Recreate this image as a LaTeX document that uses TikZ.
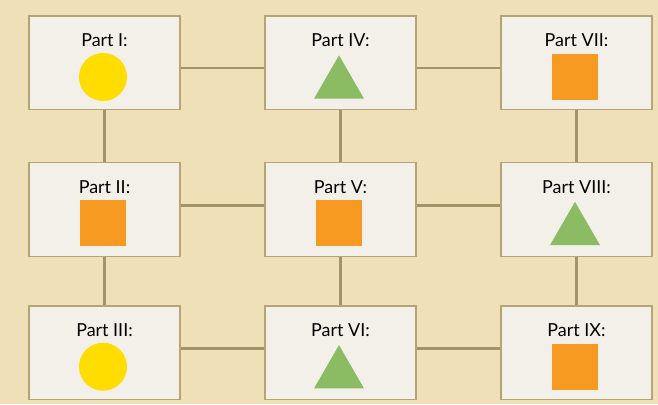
\documentclass[tikz,border=0pt]{standalone}
\usepackage{fontspec}
\setmainfont{Lato}
\usepackage{tikz}
\usetikzlibrary{calc,shapes.geometric}
\usepackage{tkz-euclide}
\usepackage{xcolor}
\definecolor{GridBack}{HTML}{EFE0B8}
\definecolor{PartFill}{HTML}{F3F0E9}
\definecolor{PartEdge}{HTML}{B4A577}
\definecolor{LinkBrown}{HTML}{A39468}
\definecolor{PartYellow}{HTML}{FFDD00}
\definecolor{PartOrange}{HTML}{F79A22}
\definecolor{PartGreen}{HTML}{8BBC63}

\tikzset{
  partbox/.style={rectangle,draw=PartEdge,line width=0.85pt,fill=PartFill,
    minimum width=3.02cm,minimum height=1.87cm,inner sep=0},
  partlabel/.style={anchor=base,inner sep=0,font=\fontsize{10.2}{12}\selectfont},
  link/.style={draw=LinkBrown,line width=1.5pt},
  partdot/.style={circle,fill=PartYellow,minimum size=0.96cm,inner sep=0},
  partsquare/.style={rectangle,fill=PartOrange,minimum size=0.92cm,inner sep=0},
  parttriangle/.style={regular polygon,regular polygon sides=3,fill=PartGreen,
    minimum size=1.155cm,inner sep=0,yshift=-0.144cm}
}

\begin{document}
\begin{tikzpicture}
    \fill[GridBack] (0,0) rectangle (13.16,8.08);
    \useasboundingbox (0,0) rectangle (13.16,8.08);
    \tkzDefPoints{2.09/6.82/A,2.09/3.89/B,2.09/1.025/C,
      6.81/6.82/D,6.81/3.89/E,6.81/1.025/F,
      11.53/6.82/G,11.53/3.89/H,11.53/1.025/K}
    \foreach \pt/\name/\num/\kind in {A/P1/I/partdot,B/P2/II/partsquare,
      C/P3/III/partdot,D/P4/IV/parttriangle,E/P5/V/partsquare,
      F/P6/VI/parttriangle,G/P7/VII/partsquare,H/P8/VIII/parttriangle,
      K/P9/IX/partsquare} {
     \node[partbox] (\name) at (\pt) {};
     \node[partlabel] (\name-t) at ($(\name.center)+(0,0.32)$) {Part \num:};
     \node[\kind] (\name-s) at ($(\name.center)+(-0.03,-0.28)$) {};
    }
    % links along the rows
    \draw[link] ([yshift=-1mm]P1.east) -- ([yshift=-1mm]P4.west);
    \draw[link] ([yshift=-1mm]P4.east) -- ([yshift=-1mm]P7.west);
    \draw[link] ([yshift=0.8mm]P2.east) -- ([yshift=0.8mm]P5.west);
    \draw[link] ([yshift=0.8mm]P5.east) -- ([yshift=0.8mm]P8.west);
    \draw[link] ([yshift=0.9mm]P3.east) -- ([yshift=0.9mm]P6.west);
    \draw[link] ([yshift=0.9mm]P6.east) -- ([yshift=0.9mm]P9.west);
    % links down the columns
    \foreach \top/\bot in {P1/P2,P2/P3,P4/P5,P5/P6,P7/P8,P8/P9} {
     \draw[link] (\top) -- (\bot);
    }
   \end{tikzpicture}
\end{document}
